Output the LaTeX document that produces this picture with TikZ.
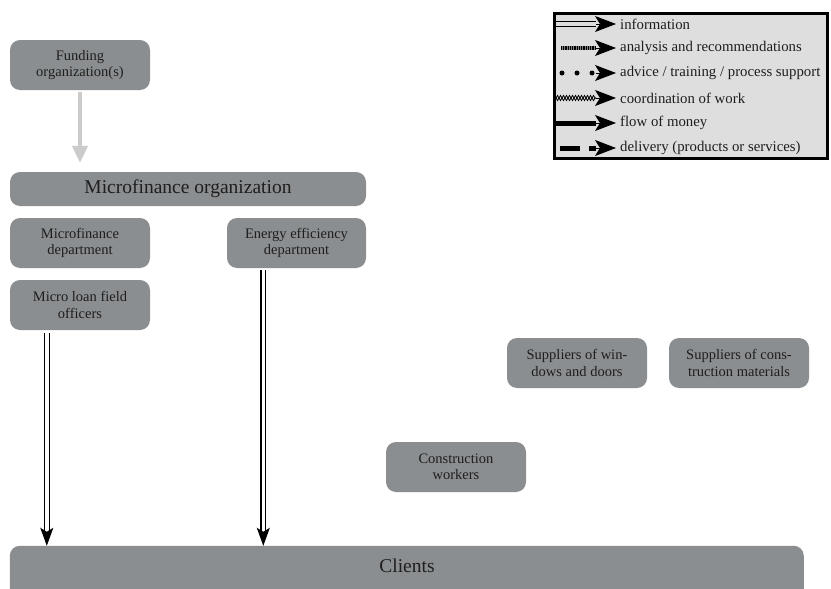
\documentclass[tikz,border=0pt]{standalone}
\usepackage{fontspec}
\setmainfont{Liberation Serif}
\usetikzlibrary{arrows.meta,decorations.pathmorphing}
\definecolor{boxgray}{HTML}{8B8E90}
\definecolor{txt}{HTML}{1E1E1E}
\definecolor{leggray}{HTML}{DEDEDE}
\definecolor{lightarrow}{HTML}{CBCBCB}
\begin{document}
\begin{tikzpicture}[x=1pt,y=-1pt,
  box/.style={fill=boxgray, rounded corners=10pt, text=txt, align=center, inner sep=0pt,
    minimum width=140pt, minimum height=50pt, font=\fontsize{14.5}{16.5}\selectfont},
  bigtext/.style={font=\fontsize{19.5}{22}\selectfont},
  info/.style={draw=black, double=white, double distance=3.5pt, line width=1.1pt,
    -{Stealth[length=18pt,width=13pt,inset=4pt]}},
  legtip/.style={-{Stealth[length=21pt,width=16pt,inset=5pt]}},
  legtext/.style={anchor=west, inner sep=0pt, text=txt, font=\fontsize{14.8}{16}\selectfont},
  funding/.style={draw=lightarrow, line width=4.5pt, -{Triangle[length=17pt,width=15pt]}}
]
\clip (0,0) rectangle (831,589);
\fill[white] (0,0) rectangle (831,589);

% boxes
\node[box] (fund) at (80,65) {Funding\\organization(s)};
\node[box, bigtext, minimum width=356pt, minimum height=34pt] (mfo) at (188,189) {Microfinance organization};
\node[box] (mfd) at (80,243) {Microfinance\\department};
\node[box, minimum width=139pt] (eed) at (296.5,243) {Energy efficiency\\department};
\node[box] (mlo) at (80,305) {Micro loan field\\officers};
\node[box] (supw) at (577,363) {Suppliers of win-\\dows and doors};
\node[box] (supc) at (739,363) {Suppliers of cons-\\truction materials};
\node[box] (cw) at (456,467) {Construction\\workers};
\node[bigtext, text=txt, minimum width=794pt, minimum height=40pt, inner sep=0pt] (clients) at (407,566) {};
\fill[boxgray, rounded corners=10pt] (clients.north west) rectangle ++(794,70);
\node[bigtext, text=txt] at (clients) {Clients};

% connectors
\draw[funding, shorten >=9pt, shorten <=2pt] (fund.south) -- (fund.south |- mfo.north);
\path (mlo.south west) ++(37,3) coordinate (a1);
\draw[info] (a1) -- (a1 |- clients.north);
\path (eed.south west) ++(36.5,2) coordinate (a2);
\draw[info] (a2) -- (a2 |- clients.north);

% legend
\node[draw=black, line width=3pt, fill=leggray, minimum width=273pt, minimum height=145pt, inner sep=0pt] (legend) at (691,86) {};
\foreach \n/\y in {r1/24, r2/48, r3/73, r4/98, r5/123, r6/148}{
  \coordinate (\n s) at (556,\y);
  \coordinate (\n e) at (616,\y);
  \coordinate (\n m) at (596,\y);
}
% information
\draw[draw=black, double=leggray, double distance=3.5pt, line width=1pt] (r1s) -- (r1m);
\draw[legtip, line width=1pt] (r1m) -- (r1e);
% analysis
\draw[line width=4.5pt, draw=gray] ([xshift=5pt]r2s) -- (r2m);
\draw[line width=4.5pt, draw=black, dash pattern=on 0.9pt off 0.9pt] ([xshift=5pt]r2s) -- (r2m);
\draw[legtip, line width=1pt] (r2m) -- (r2e);
% advice
\draw[line width=5pt, line cap=round, dash pattern=on 0pt off 15pt] (562,73) -- (r3m);
\draw[legtip, line width=1pt] (r3m) -- (r3e);
% coordination
\draw[line width=0.8pt, decoration={zigzag, segment length=6pt, amplitude=2.5pt}, decorate] (r4s) -- (r4m);
\draw[line width=0.8pt, decoration={zigzag, segment length=6pt, amplitude=2.5pt, mirror}, decorate] (r4s) -- (r4m);
\draw[legtip, line width=1pt] (r4m) -- (r4e);
% money
\draw[line width=5pt] (r5s) -- (r5m);
\draw[legtip, line width=1pt] (r5m) -- (r5e);
% delivery
\draw[line width=5pt, dash pattern=on 20pt off 9pt] ([xshift=4pt]r6s) -- (r6m);
\draw[legtip, line width=1pt] (r6m) -- (r6e);

\node[legtext] (l1) at (620,24) {information};
\node[legtext] (l2) at (620,48) {analysis and recommendations};
\node[legtext] (l3) at (620,73) {advice / training / process support};
\node[legtext] (l4) at (620,98) {coordination of work};
\node[legtext] (l5) at (620,123) {flow of money};
\node[legtext] (l6) at (620,148) {delivery (products or services)};
\end{tikzpicture}
\end{document}
